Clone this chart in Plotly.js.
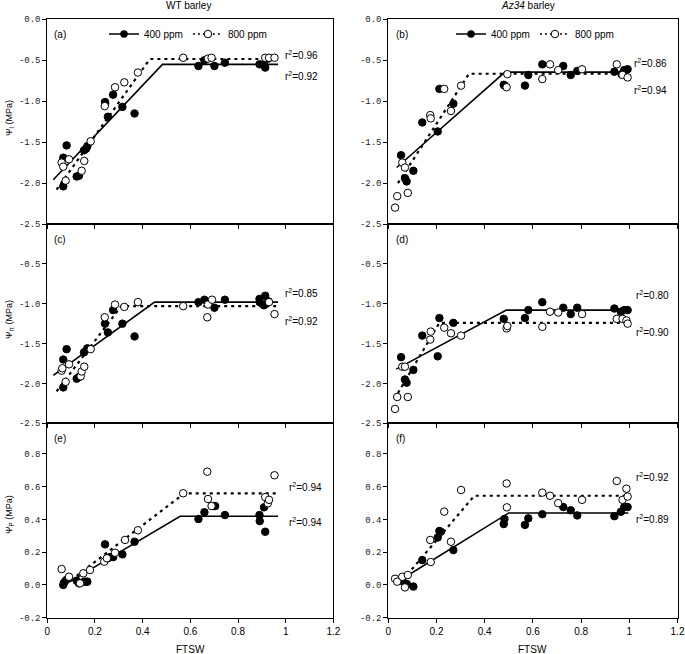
<!DOCTYPE html>
<html>
<head>
<meta charset="utf-8">
<script src="https://cdn.plot.ly/plotly-3.0.1.min.js"></script>
<style>html,body{margin:0;padding:0;background:#fff;}#chart{width:685px;height:654px;}</style>
</head>
<body>
<div id="chart"></div>
<script>
// ---------- DATA (FTSW vs water potential, MPa) ----------
// Panel (a) WT barley, leaf water potential
const a400x = [0.067,0.067,0.081,0.123,0.133,0.154,0.163,0.168,0.242,0.243,0.254,0.276,0.315,0.366,0.634,0.659,0.701,0.745,0.890,0.909,0.914,0.927];
const a400y = [-2.04,-1.69,-1.54,-1.92,-1.91,-1.60,-1.58,-1.55,-1.01,-1.03,-1.19,-0.92,-1.07,-1.15,-0.57,-0.50,-0.57,-0.53,-0.55,-0.55,-0.59,-0.48];
const a800x = [0.060,0.067,0.077,0.091,0.144,0.155,0.182,0.241,0.284,0.323,0.380,0.570,0.674,0.689,0.914,0.930,0.953];
const a800y = [-1.75,-1.80,-1.97,-1.71,-1.85,-1.73,-1.49,-1.06,-0.83,-0.77,-0.65,-0.47,-0.48,-0.47,-0.47,-0.47,-0.47];
const aFit400x = [0.025,0.483,0.968], aFit400y = [-1.96,-0.55,-0.55];
const aFit800x = [0.039,0.430,0.965], aFit800y = [-2.08,-0.485,-0.485];

// Panel (b) Az34 barley, leaf water potential
const b400x = [0.053,0.069,0.076,0.104,0.141,0.205,0.212,0.270,0.479,0.483,0.567,0.581,0.639,0.726,0.757,0.784,0.938,0.968,0.979,0.993];
const b400y = [-1.66,-1.94,-1.98,-1.85,-1.26,-1.37,-0.85,-1.03,-0.80,-0.81,-0.81,-0.68,-0.55,-0.57,-0.68,-0.63,-0.64,-0.67,-0.62,-0.61];
const b800x = [0.028,0.037,0.058,0.069,0.081,0.174,0.176,0.232,0.260,0.302,0.491,0.494,0.639,0.671,0.705,0.804,0.948,0.972,0.993];
const b800y = [-2.30,-2.16,-1.75,-1.81,-2.12,-1.17,-1.21,-0.85,-1.12,-0.81,-0.83,-0.67,-0.73,-0.55,-0.62,-0.61,-0.55,-0.68,-0.71];
const bFit400x = [0.035,0.484,0.996], bFit400y = [-1.81,-0.645,-0.645];
const bFit800x = [0.040,0.335,0.996], bFit800y = [-2.00,-0.665,-0.665];

// Panel (c) WT barley, osmotic potential
const c400x = [0.067,0.067,0.081,0.123,0.133,0.154,0.168,0.242,0.254,0.276,0.315,0.366,0.634,0.659,0.701,0.745,0.890,0.891,0.909,0.914,0.927];
const c400y = [-2.05,-1.70,-1.57,-1.94,-1.92,-1.61,-1.56,-1.25,-1.36,-1.08,-1.25,-1.41,-0.98,-0.95,-1.05,-0.95,-0.94,-0.98,-1.02,-0.90,-0.97];
const c800x = [0.060,0.063,0.077,0.091,0.140,0.144,0.155,0.182,0.241,0.284,0.323,0.380,0.570,0.671,0.674,0.691,0.930,0.953];
const c800y = [-1.84,-1.81,-1.98,-1.76,-1.91,-1.85,-1.79,-1.57,-1.17,-1.01,-1.04,-0.98,-1.03,-1.17,-1.01,-0.95,-0.98,-1.13];
const cFit400x = [0.025,0.450,0.968], cFit400y = [-1.90,-0.98,-0.98];
const cFit800x = [0.039,0.310,0.965], cFit800y = [-2.10,-1.03,-1.03];

// Panel (d) Az34 barley, osmotic potential
const d400x = [0.053,0.069,0.076,0.104,0.141,0.205,0.212,0.270,0.479,0.567,0.581,0.639,0.726,0.757,0.784,0.938,0.965,0.979,0.993];
const d400y = [-1.67,-1.95,-1.99,-1.83,-1.40,-1.66,-1.18,-1.24,-1.19,-1.18,-1.08,-0.98,-1.05,-1.13,-1.05,-1.06,-1.10,-1.08,-1.08];
const d800x = [0.028,0.037,0.058,0.069,0.081,0.174,0.176,0.232,0.260,0.302,0.491,0.494,0.639,0.671,0.705,0.804,0.948,0.972,0.988,0.993];
const d800y = [-2.32,-2.17,-1.79,-1.79,-2.17,-1.45,-1.35,-1.30,-1.37,-1.40,-1.31,-1.28,-1.29,-1.10,-1.11,-1.13,-1.19,-1.19,-1.21,-1.25];
const dFit400x = [0.033,0.490,0.996], dFit400y = [-1.82,-1.08,-1.08];
const dFit800x = [0.040,0.212,0.996], dFit800y = [-2.12,-1.24,-1.24];

// Panel (e) WT barley, turgor pressure
const e400x = [0.067,0.070,0.079,0.090,0.123,0.133,0.154,0.163,0.168,0.242,0.254,0.263,0.276,0.315,0.366,0.634,0.659,0.697,0.704,0.745,0.890,0.891,0.909,0.914];
const e400y = [0.00,0.014,0.03,0.04,0.026,0.01,0.02,0.02,0.02,0.248,0.163,0.17,0.17,0.187,0.264,0.403,0.444,0.482,0.482,0.427,0.427,0.39,0.474,0.325];
const e800x = [0.060,0.091,0.137,0.151,0.179,0.239,0.250,0.284,0.326,0.380,0.570,0.671,0.674,0.689,0.914,0.925,0.930,0.953];
const e800y = [0.097,0.05,0.01,0.071,0.091,0.142,0.163,0.197,0.275,0.334,0.56,0.692,0.525,0.482,0.537,0.499,0.52,0.67];
const eFit400x = [0.100,0.557,0.968], eFit400y = [0.025,0.42,0.42];
const eFit800x = [0.100,0.575,0.968], eFit800y = [0.030,0.56,0.56];

// Panel (f) Az34 barley, turgor pressure
const f400x = [0.053,0.069,0.078,0.104,0.141,0.205,0.212,0.218,0.270,0.479,0.482,0.567,0.581,0.639,0.726,0.757,0.784,0.938,0.965,0.979,0.993];
const f400y = [0.026,0.01,0.005,-0.01,0.152,0.29,0.33,0.325,0.213,0.372,0.403,0.367,0.407,0.432,0.476,0.456,0.425,0.42,0.447,0.476,0.476];
const f800x = [0.028,0.037,0.058,0.069,0.081,0.174,0.176,0.232,0.260,0.302,0.491,0.492,0.639,0.671,0.705,0.804,0.948,0.972,0.988,0.993];
const f800y = [0.038,0.02,0.05,-0.015,0.061,0.275,0.14,0.448,0.264,0.58,0.62,0.474,0.564,0.545,0.5,0.52,0.635,0.52,0.588,0.54];
const fFit400x = [0.050,0.500,0.996], fFit400y = [0.03,0.44,0.44];
const fFit800x = [0.060,0.357,0.996], fFit800y = [0.03,0.545,0.545];

// r-squared labels
const r2Labels = {
  a: ["0.96","0.92"], b: ["0.86","0.94"], c: ["0.85","0.92"],
  d: ["0.80","0.90"], e: ["0.94","0.94"], f: ["0.92","0.89"]
};
const seriesNames = ["400 ppm", "800 ppm"];
const columnTitles = ["WT barley", "<i>Az34</i> barley"];
const yTitles = ["Ψ<sub>l</sub> (MPa)", "Ψ<sub>π</sub> (MPa)", "Ψ<sub>P</sub> (MPa)"];
const xTitle = "FTSW";
const xTickVals = [0,0.2,0.4,0.6,0.8,1,1.2];
const xTickText = ["0","0.2","0.4","0.6","0.8","1","1.2"];
const yTickValsTop = [0,-0.5,-1.0,-1.5,-2.0,-2.5];
const yTickTextTop = ["0.0","-0.5","-1.0","-1.5","-2.0","-2.5"];
const yTickValsMid = [-0.5,-1.0,-1.5,-2.0,-2.5];
const yTickTextMid = ["-0.5","-1.0","-1.5","-2.0","-2.5"];
const yTickValsBot = [-0.2,0,0.2,0.4,0.6,0.8];
const yTickTextBot = ["-0.2","0.0","0.2","0.4","0.6","0.8"];

// ---------- LAYOUT GEOMETRY ----------
const W = 685, H = 654;
const fx = p => p / W, fy = p => 1 - p / H;
const colDom = [[fx(47.3), fx(333.4)], [fx(388.3), fx(677.5)]];
const rowDom = [[fy(224), fy(19.3)], [fy(423.3), fy(224)], [fy(617.7), fy(423.3)]];
const rowRange = [[-2.5, 0], [-2.5, 0], [-0.2, 0.9875]];
const rowTicks = [[yTickValsTop, yTickTextTop], [yTickValsMid, yTickTextMid], [yTickValsBot, yTickTextBot]];

const panels = [
  {id:'a', row:0, col:0, d:[a400x,a400y,a800x,a800y,aFit400x,aFit400y,aFit800x,aFit800y]},
  {id:'b', row:0, col:1, d:[b400x,b400y,b800x,b800y,bFit400x,bFit400y,bFit800x,bFit800y]},
  {id:'c', row:1, col:0, d:[c400x,c400y,c800x,c800y,cFit400x,cFit400y,cFit800x,cFit800y]},
  {id:'d', row:1, col:1, d:[d400x,d400y,d800x,d800y,dFit400x,dFit400y,dFit800x,dFit800y]},
  {id:'e', row:2, col:0, d:[e400x,e400y,e800x,e800y,eFit400x,eFit400y,eFit800x,eFit800y]},
  {id:'f', row:2, col:1, d:[f400x,f400y,f800x,f800y,fFit400x,fFit400y,fFit800x,fFit800y]}
];
// r2 label positions (data coords) per panel
const r2Pos = {
  a: [[0.99,-0.43],[0.99,-0.69]], b: [[1.013,-0.53],[1.013,-0.86]],
  c: [[0.99,-0.86],[0.99,-1.22]], d: [[1.02,-0.89],[1.02,-1.35]],
  e: [[1.005,0.60],[1.005,0.386]], f: [[1.02,0.66],[1.02,0.403]]
};

const tickFont = {family: 'Liberation Mono, DejaVu Sans Mono, monospace', size: 9, color: '#222'};
const textFont = {family: 'Liberation Sans, Arial, sans-serif', size: 10, color: '#000'};

const traces = [];
const layout = {
  width: W, height: H,
  margin: {l:0, r:0, t:0, b:0},
  paper_bgcolor: '#fff', plot_bgcolor: '#fff',
  showlegend: true,
  font: textFont,
  annotations: [],
  legend: {x: fx(104), y: fy(34), xanchor:'left', yanchor:'middle', orientation:'h',
           font: {family:'Liberation Sans, Arial, sans-serif', size:10, color:'#000'},
           bgcolor:'rgba(0,0,0,0)', itemwidth:30, tracegroupgap:0},
  legend2: {x: fx(451), y: fy(34), xanchor:'left', yanchor:'middle', orientation:'h',
           font: {family:'Liberation Sans, Arial, sans-serif', size:10, color:'#000'},
           bgcolor:'rgba(0,0,0,0)', itemwidth:30, tracegroupgap:0}
};

panels.forEach((p, i) => {
  const n = i + 1;
  const xa = n === 1 ? 'x' : 'x' + n;
  const ya = n === 1 ? 'y' : 'y' + n;
  const xkey = n === 1 ? 'xaxis' : 'xaxis' + n;
  const ykey = n === 1 ? 'yaxis' : 'yaxis' + n;
  const bottom = p.row === 2;
  layout[xkey] = {
    domain: colDom[p.col], anchor: ya, range: [0, 1.2],
    tickmode: 'array', tickvals: xTickVals, ticktext: xTickText,
    showticklabels: bottom, ticks: 'outside', ticklen: 4, tickcolor: '#000', tickwidth: 1,
    showline: true, linecolor: '#000', linewidth: 1, mirror: true,
    showgrid: false, zeroline: false,
    tickfont: {family:'Liberation Sans, Arial, sans-serif', size:10, color:'#000'}
  };
  const tk = rowTicks[p.row];
  layout[ykey] = {
    domain: rowDom[p.row], anchor: xa, range: rowRange[p.row],
    tickmode: 'array', tickvals: tk[0], ticktext: tk[1],
    ticks: 'outside', ticklen: 4, tickcolor: '#000', tickwidth: 1,
    showline: true, linecolor: '#000', linewidth: 1, mirror: true,
    showgrid: false, zeroline: false, tickfont: tickFont
  };
  const [x4, y4, x8, y8, fx4, fy4, fx8, fy8] = p.d;
  traces.push({type:'scatter', mode:'lines', x:fx4, y:fy4, xaxis:xa, yaxis:ya, showlegend:false,
               line:{color:'#000', width:1.6}, hoverinfo:'skip'});
  traces.push({type:'scatter', mode:'lines', x:fx8, y:fy8, xaxis:xa, yaxis:ya, showlegend:false,
               line:{color:'#000', width:2.2, dash:'3px,4px'}, hoverinfo:'skip'});
  traces.push({type:'scatter', mode:'markers', x:x4, y:y4, xaxis:xa, yaxis:ya, showlegend:false,
               marker:{symbol:'circle', size:7.5, color:'#000', line:{color:'#000', width:1}}});
  traces.push({type:'scatter', mode:'markers', x:x8, y:y8, xaxis:xa, yaxis:ya, showlegend:false,
               marker:{symbol:'circle', size:7.5, color:'#fff', line:{color:'#000', width:1}}});
  // panel letter
  layout.annotations.push({xref: xa + ' domain', yref: ya + ' domain', x: 0.018, y: 1 - 15 / ((rowDom[p.row][1]-rowDom[p.row][0])*H),
    xanchor:'left', yanchor:'middle', showarrow:false, text:'(' + p.id + ')', font:textFont});
  // r2 labels
  r2Pos[p.id].forEach((pos, k) => {
    layout.annotations.push({xref: xa, yref: ya, x: pos[0], y: pos[1], xanchor:'left', yanchor:'middle',
      showarrow:false, text:'r<sup>2</sup>=' + r2Labels[p.id][k], font:textFont});
  });
  // x-axis title under bottom panels
  if (bottom) {
    layout.annotations.push({xref: xa + ' domain', yref:'paper', x: 0.5, y: fy(649), xanchor:'center', yanchor:'middle',
      showarrow:false, text: xTitle, font: textFont});
  }
});

// legend entries (panels a and b)
['legend', 'legend2'].forEach((lg, j) => {
  const xa = j === 0 ? 'x' : 'x2', ya = j === 0 ? 'y' : 'y2';
  traces.push({type:'scatter', mode:'lines+markers', x:[null], y:[null], xaxis:xa, yaxis:ya, legend:lg,
    name: seriesNames[0], line:{color:'#000', width:1.6}, marker:{size:7.5, color:'#000'}});
  traces.push({type:'scatter', mode:'lines+markers', x:[null], y:[null], xaxis:xa, yaxis:ya, legend:lg,
    name: seriesNames[1], line:{color:'#000', width:1.5, dash:'2px,3px'},
    marker:{size:7.5, color:'#fff', line:{color:'#000', width:1}}});
});

// column titles
layout.annotations.push({xref:'paper', yref:'paper', x: fx(188), y: fy(6), xanchor:'center', yanchor:'middle',
  showarrow:false, text: columnTitles[0], font: textFont});
layout.annotations.push({xref:'paper', yref:'paper', x: fx(528), y: fy(6), xanchor:'center', yanchor:'middle',
  showarrow:false, text: columnTitles[1], font: textFont});
// y-axis titles
[118, 320, 515].forEach((yc, r) => {
  layout.annotations.push({xref:'paper', yref:'paper', x: fx(9), y: fy(yc), xanchor:'center', yanchor:'middle',
    showarrow:false, textangle:-90, text: yTitles[r], font:{family:'Liberation Sans, Arial, sans-serif', size:9, color:'#000'}});
});

Plotly.newPlot('chart', traces, layout, {displayModeBar:false, staticPlot:true});
</script>
</body>
</html>
